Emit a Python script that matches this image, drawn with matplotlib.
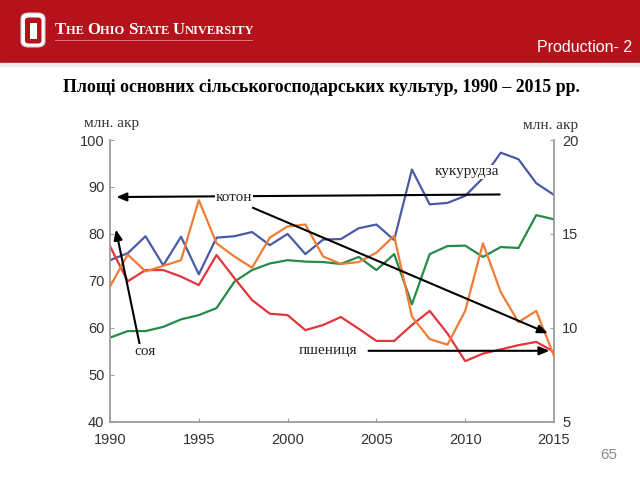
import numpy as np
import matplotlib
matplotlib.use('Agg')
import matplotlib.pyplot as plt
from matplotlib.patches import Rectangle, FancyBboxPatch

# дані (млн. акрів)
years = list(range(1990, 2016))
corn = [74.4, 75.9, 79.5, 73.3, 79.4, 71.4, 79.2, 79.5, 80.4, 77.6, 80.0, 75.7, 78.8,
        78.9, 81.2, 82.0, 78.7, 93.7, 86.3, 86.6, 88.1, 91.9, 97.3, 95.9, 90.8, 88.3]
soy = [57.9, 59.3, 59.3, 60.2, 61.8, 62.7, 64.2, 69.8, 72.3, 73.7, 74.4, 74.1, 74.0,
       73.6, 75.1, 72.3, 75.7, 65.0, 75.7, 77.4, 77.5, 75.1, 77.2, 77.0, 84.0, 83.1]
wheat = [77.4, 69.9, 72.3, 72.3, 70.9, 69.1, 75.5, 70.6, 65.9, 63.0, 62.7, 59.5, 60.6,
         62.3, 59.8, 57.2, 57.2, 60.6, 63.6, 58.8, 52.9, 54.5, 55.4, 56.3, 57.0, 54.9]
# котон - права вісь
cotton = [12.2, 13.9, 13.0, 13.3, 13.6, 16.8, 14.5, 13.8, 13.2, 14.8, 15.4, 15.5, 13.8,
          13.4, 13.5, 14.0, 14.9, 10.6, 9.4, 9.1, 10.9, 14.5, 11.9, 10.3, 10.9, 8.5]

left_ticks = [40, 50, 60, 70, 80, 90, 100]
right_ticks = [5, 10, 15, 20]
x_ticks = [1990, 1995, 2000, 2005, 2010, 2015]

c_corn = '#4a5ba6'
c_soy = '#268a48'
c_wheat = '#e2363c'
c_cotton = '#f07d36'
red = '#b5121b'
W, H = 640, 480

def fx(x):
    return x / W

def fy(y):
    return 1 - y / H

fig = plt.figure(figsize=(6.4, 4.8), dpi=100)

# шапка
fig.add_artist(Rectangle((0, fy(63)), 1, 63 / H, transform=fig.transFigure,
                         color=red, zorder=0))
fig.add_artist(Rectangle((0, fy(66)), 1, 3 / H, transform=fig.transFigure,
                         color='#ececec', zorder=0))
# логотип O
fig.add_artist(FancyBboxPatch((fx(21), fy(47)), 24 / W, 34 / H,
                              boxstyle='round,pad=0,rounding_size=0.012',
                              transform=fig.transFigure, fc='white', ec='#cccccc', lw=0.8))
fig.add_artist(FancyBboxPatch((fx(25), fy(43.5)), 16.5 / W, 26 / H,
                              boxstyle='round,pad=0,rounding_size=0.006',
                              transform=fig.transFigure, fc=red, ec='none'))
fig.add_artist(Rectangle((fx(29.5), fy(38.5)), 7.5 / W, 16 / H, transform=fig.transFigure,
                         fc='white', ec='none'))

# назва університету малими капітелями
serif = ['Liberation Serif', 'DejaVu Serif']
parts = [('T', 12), ('HE ', 9), ('O', 12), ('HIO ', 9), ('S', 12), ('TATE ', 9),
         ('U', 12), ('NIVERSITY', 9)]
fig.canvas.draw()
rend = fig.canvas.get_renderer()
xpos = 55
for s, size in parts:
    t = fig.text(fx(xpos), fy(34), s, color='white', fontsize=size, family=serif,
                 fontweight='bold', ha='left', va='baseline')
    bb = t.get_window_extent(renderer=rend)
    xpos += bb.width
fig.add_artist(plt.Line2D([fx(55), fx(252)], [fy(39.5), fy(39.5)], transform=fig.transFigure,
                          color='#e07a80', lw=0.7))

fig.text(fx(632), fy(48), 'Production- 2', color='white', fontsize=11.5,
         family=['Liberation Sans', 'DejaVu Sans'], ha='right', va='center')

fig.text(fx(321), fy(88), 'Площі основних сільськогосподарських культур, 1990 – 2015 рр.',
         ha='center', va='center', family=serif, fontweight='bold', fontsize=12.8)

fig.text(fx(609), fy(455), '65', color='#8a8a8a', fontsize=11,
         family=['Liberation Sans', 'DejaVu Sans'], ha='center', va='center')

fig.text(fx(112), fy(123), 'млн. акр', family=serif, fontsize=11, ha='center', va='center',
         color='#333333')
fig.text(fx(551), fy(125), 'млн. акр', family=serif, fontsize=11, ha='center', va='center',
         color='#333333')

# графік
ax = fig.add_axes([fx(110), fy(421.7), (554 - 110) / W, (421.7 - 140) / H])
ax2 = ax.twinx()

ax.plot(years, corn, color=c_corn, lw=1.6, zorder=3)
ax.plot(years, soy, color=c_soy, lw=1.6, zorder=3)
ax.plot(years, wheat, color=c_wheat, lw=1.6, zorder=3)
ax2.plot(years, cotton, color=c_cotton, lw=1.6, zorder=3)

ax.set_xlim(1990, 2015)
ax.set_ylim(40, 100)
ax2.set_ylim(5, 20)
ax.set_xticks(x_ticks)
ax.set_yticks(left_ticks)
ax2.set_yticks(right_ticks)

for a in (ax, ax2):
    for sp in a.spines.values():
        sp.set_color('#a0a0a0')
        sp.set_linewidth(1.1)
    a.spines['top'].set_visible(False)
    a.tick_params(direction='in', length=3, color='#a0a0a0', labelsize=10.5,
                  labelcolor='#333333')
    for lab in a.get_xticklabels() + a.get_yticklabels():
        lab.set_family(['Liberation Sans', 'DejaVu Sans'])
ax.tick_params(axis='x', pad=8)
ax.tick_params(axis='y', pad=4)
ax2.tick_params(axis='y', pad=6)
ax.patch.set_visible(False)

# підписи і стрілки (на правій осі, щоб були над усіма лініями)
txt_kw = dict(family=serif, fontsize=11, ha='center', va='center', color='#222222',
              bbox=dict(fc='white', ec='none', pad=0.5), zorder=6)
arr = dict(arrowstyle='-|>,head_length=0.6,head_width=0.25', color='black', lw=1.5)

def to2(v):
    return 5 + (v - 40) / 4

ax2.annotate('', xy=(1990.2, to2(87.85)), xytext=(2012.1, to2(88.4)), arrowprops=arr, zorder=5)
ax2.annotate('', xy=(2014.8, to2(58.6)), xytext=(1997.9, to2(85.8)), arrowprops=arr, zorder=5)
ax2.annotate('', xy=(1990.3, to2(81.5)), xytext=(1991.7, to2(55.9)), arrowprops=arr, zorder=5)
ax2.annotate('', xy=(2014.9, to2(55.1)), xytext=(2004.4, to2(55.1)), arrowprops=arr, zorder=5)

ax2.text(1997.0, to2(87.7), 'котон', **txt_kw)
ax2.text(1992.0, to2(54.9), 'соя', **txt_kw)
ax2.text(2002.3, to2(55.2), 'пшениця', **txt_kw)
ax2.text(2010.1, to2(93.2), 'кукурудза', **txt_kw)

fig.savefig('out.png', dpi=100)
